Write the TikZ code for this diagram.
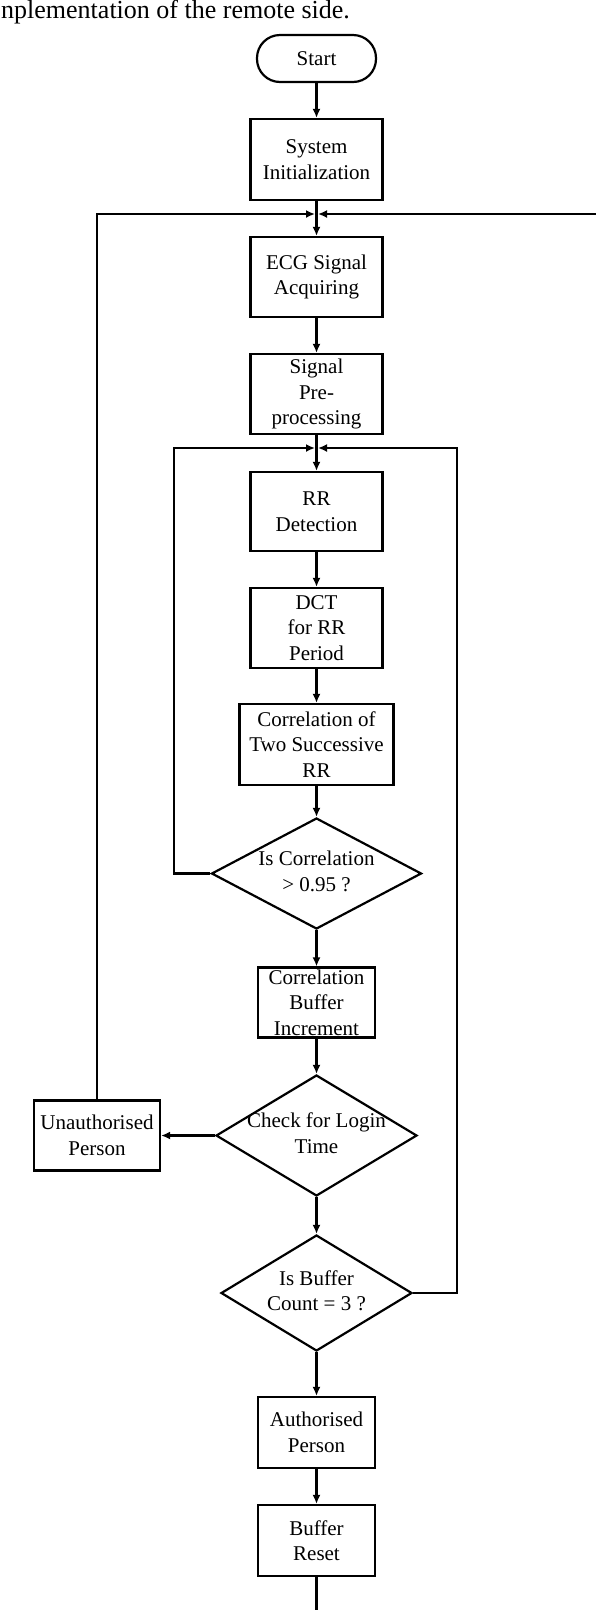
\documentclass[tikz,border=0pt]{standalone}
\usepackage{fontspec}
\setmainfont{Liberation Serif}
\usetikzlibrary{arrows.meta,shapes.geometric}
\newcommand\dlabel[1]{\makebox[0pt]{\raisebox{-5.25pt}[0pt][0pt]{\begin{tabular}{@{}c@{}}#1\end{tabular}}}}
\tikzset{
  every node/.style={font=\fontsize{21}{25.5}\selectfont},
  box/.style={draw, rectangle, line width=2.2pt, inner sep=0pt, align=center},
  term/.style={draw, rectangle, rounded corners=23pt, line width=2.2pt, inner sep=0pt, align=center},
  dia/.style={draw, diamond, line width=2.2pt, inner sep=0pt},
  conn/.style={line width=2.4pt, -{Latex[length=9pt,width=8pt]}},
  plain/.style={line width=2.4pt},
}
\begin{document}
\begin{tikzpicture}[x=1pt,y=-1pt]
\useasboundingbox (0,0) rectangle (596,1610);
\node[anchor=base west, inner sep=0pt, font=\fontsize{26}{30}\selectfont] (cap) at (1,18.5) {nplementation of the remote side.};

\node[term, minimum width=119pt, minimum height=47pt] (start) at (316.5,58.5) {Start};
\node[box, minimum width=132pt, minimum height=81pt] (init) at (316.5,159.5) {System\\Initialization};
\node[box, minimum width=132pt, minimum height=80pt] (ecg) at (316.5,277) {ECG Signal\\Acquiring};
\node[box, minimum width=132pt, minimum height=80pt] (pre) at (316.5,394) {Signal\\Pre-\\processing};
\node[box, minimum width=132pt, minimum height=79pt] (rr) at (316.5,511.5) {RR\\Detection};
\node[box, minimum width=132pt, minimum height=80pt] (dct) at (316.5,628) {DCT\\for RR\\Period};
\node[box, minimum width=154pt, minimum height=81pt] (corr) at (316.5,744.5) {Correlation of\\Two Successive\\RR};
\node[dia, minimum width=210pt, minimum height=111pt] (d1) at (316.5,873.5) {\dlabel{Is Correlation\\> 0.95 ?}};
\node[box, minimum width=117pt, minimum height=70pt] (buf) at (316.5,1002.5) {Correlation\\Buffer\\Increment};
\node[dia, minimum width=201pt, minimum height=121pt] (d2) at (316.5,1135.5) {\dlabel{Check for Login\\Time}};
\node[box, minimum width=126pt, minimum height=70pt] (unauth) at (97,1135.5) {Unauthorised\\Person};
\node[dia, minimum width=191pt, minimum height=116pt] (d3) at (316.5,1293) {\dlabel{Is Buffer\\Count = 3 ?}};
\node[box, minimum width=117pt, minimum height=71pt] (auth) at (316.5,1432.5) {Authorised\\Person};
\node[box, minimum width=117pt, minimum height=71pt] (reset) at (316.5,1540.5) {Buffer\\Reset};

\coordinate (j1l) at (315,214);
\coordinate (j1r) at (318,214);
\coordinate (rtop) at (600,214);
\coordinate (j2l) at (315,448);
\coordinate (j2r) at (318,448);
\coordinate (c1) at (174,448);
\coordinate (c2) at (457,448);
\coordinate (bend) at (316.5,1615);

\draw[conn] (start) -- (init);
\draw[conn] (init) -- (ecg);
\draw[conn] (ecg) -- (pre);
\draw[conn] (pre) -- (rr);
\draw[conn] (rr) -- (dct);
\draw[conn] (dct) -- (corr);
\draw[conn] (corr) -- (d1);
\draw[conn] (d1) -- (buf);
\draw[conn] (buf) -- (d2);
\draw[conn] (d2) -- (d3);
\draw[conn] (d3) -- (auth);
\draw[conn] (auth) -- (reset);
\draw[plain] (reset) -- (bend);
\draw[conn] (d2.west) -- (unauth.east);
\draw[conn] (unauth.north) |- (j1l);
\draw[conn] (rtop) -- (j1r);
\draw[conn] (d1.west) -| (c1) -- (j2l);
\draw[conn] (d3.east) -| (c2) -- (j2r);
\end{tikzpicture}
\end{document}
